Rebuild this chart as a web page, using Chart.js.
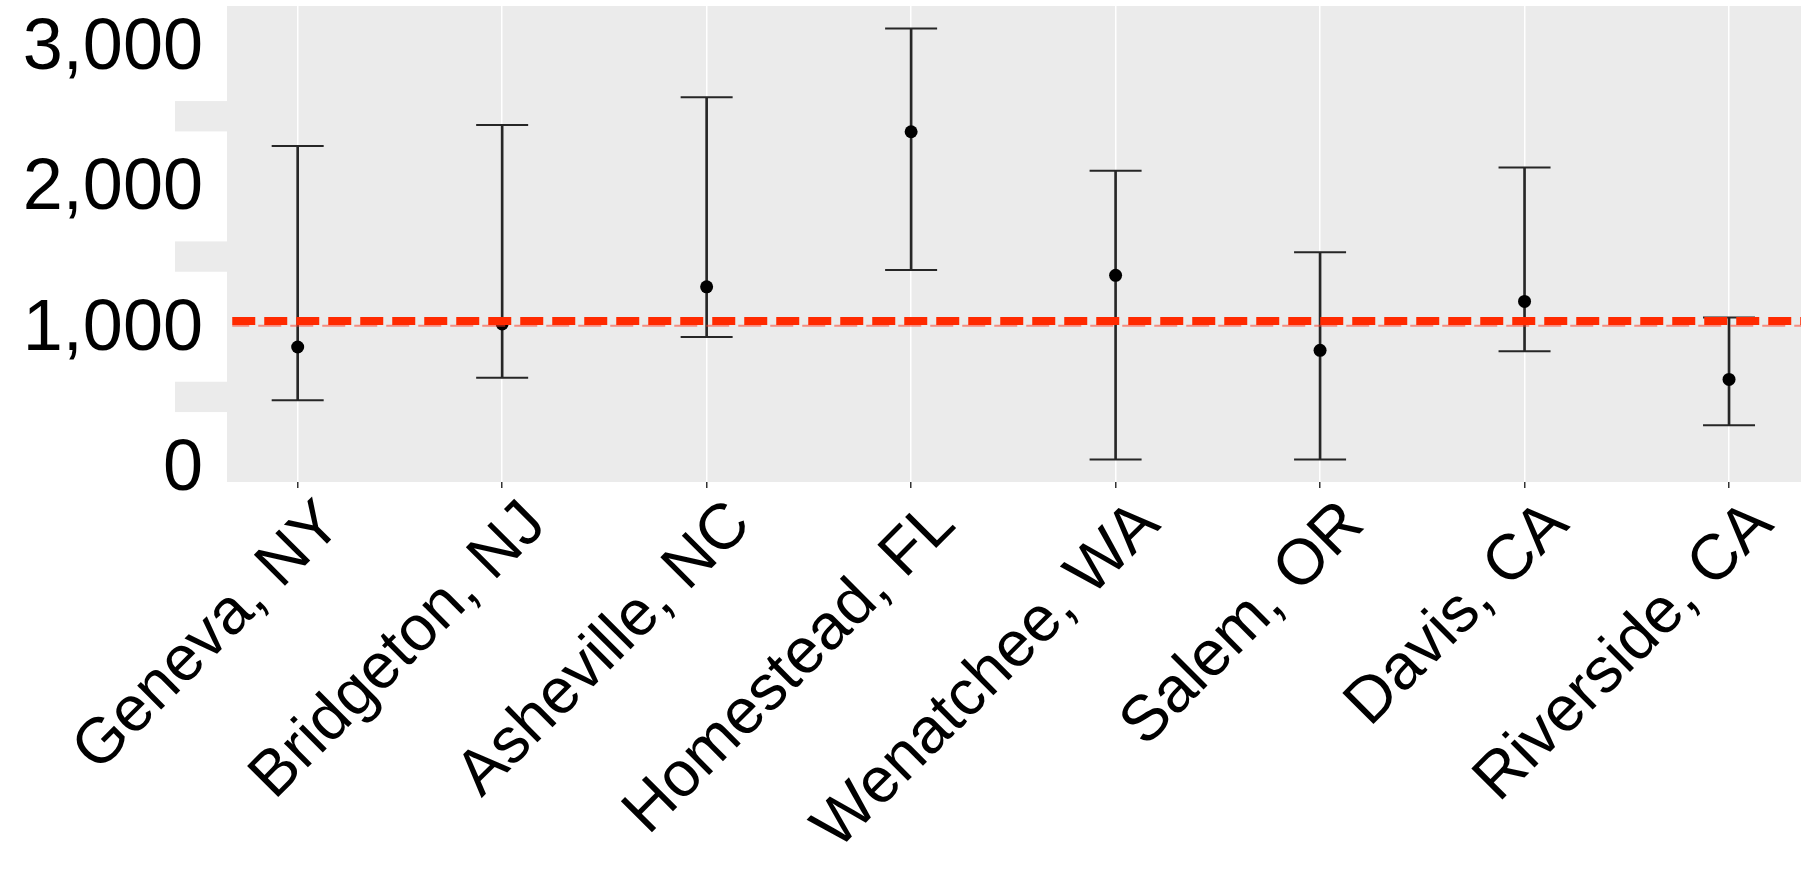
<!DOCTYPE html>
<html>
<head>
<meta charset="utf-8">
<script src="https://cdn.jsdelivr.net/npm/chart.js@4.4.1/dist/chart.umd.min.js"></script>
<style>
  html, body { margin: 0; padding: 0; background: #ffffff; }
  #wrap { width: 1801px; height: 873px; }
</style>
</head>
<body>
<div id="wrap"><canvas id="chart" width="1801" height="873"></canvas></div>
<script>
// data
const cities = ['Geneva, NY', 'Bridgeton, NJ', 'Asheville, NC', 'Homestead, FL',
                'Wenatchee, WA', 'Salem, OR', 'Davis, CA', 'Riverside, CA'];
const means = [877, 1041, 1306, 2411, 1388, 853, 1202, 646];
const lower = [497, 658, 948, 1425, 76, 76, 846, 319];
const upper = [2309, 2459, 2656, 3146, 2133, 1552, 2157, 1088];
const overallMean = 1062;
const meanLineStart = -0.32;
const yTicks = [0, 1000, 2000, 3000];
// x axis: the grey panel starts at -0.6, the plot area itself a bit further right
const panelMin = -0.6;
const xRange = [-0.331, 7.352];
const yRange = [-85, 3307];

const FONT = '"Liberation Sans", Arial, sans-serif';
const BAR_COLOR = '#262626';

// grey panel, plus the white boxes that sit behind the y labels
const panelPlugin = {
    id: 'panel',
    beforeDraw(chart) {
        const { ctx, chartArea, scales } = chart;
        const left = scales.x.getPixelForValue(panelMin);
        ctx.save();
        ctx.fillStyle = '#ebebeb';
        ctx.fillRect(left, chartArea.top, chartArea.right - left, chartArea.bottom - chartArea.top);
        ctx.fillStyle = '#ffffff';
        yTicks.forEach(v => {
            const py = scales.y.getPixelForValue(v);
            ctx.fillRect(0, py - 58, left + 52, 110);
        });
        ctx.restore();
    }
};

const pointData = cities.map((c, i) => ({ x: i, y: means[i] }));
const stemData = cities.map((c, i) => ({ x: i, y: [lower[i], upper[i]] }));
const capData = cities.flatMap((c, i) => [{ x: i, y: lower[i] }, { x: i, y: upper[i] }]);
const meanLine = [{ x: meanLineStart, y: overallMean }, { x: xRange[1], y: overallMean }];

new Chart(document.getElementById('chart'), {
    type: 'scatter',
    data: {
        datasets: [
            // overall mean, dashed red
            {
                type: 'line',
                data: meanLine,
                borderColor: '#ff2a00',
                borderWidth: 8,
                borderDash: [23, 9],
                pointRadius: 0,
                order: 0
            },
            {
                type: 'line',
                data: meanLine.map(p => ({ x: p.x, y: p.y - 33 })),
                borderColor: 'rgba(255, 60, 40, 0.55)',
                borderWidth: 2,
                borderDash: [23, 9],
                borderDashOffset: 6,
                pointRadius: 0,
                order: 1
            },
            // error bar stems
            {
                type: 'bar',
                data: stemData,
                backgroundColor: BAR_COLOR,
                borderWidth: 0,
                barThickness: 2,
                order: 4
            },
            // error bar caps
            {
                data: capData,
                pointStyle: 'line',
                pointRadius: 26,
                pointBorderColor: BAR_COLOR,
                pointBorderWidth: 2,
                order: 3
            },
            // means
            {
                data: pointData,
                pointRadius: 6.5,
                pointBackgroundColor: '#000000',
                pointBorderColor: '#000000',
                pointBorderWidth: 0,
                order: 2
            }
        ]
    },
    options: {
        responsive: false,
        animation: false,
        devicePixelRatio: 1,
        events: [],
        layout: { autoPadding: false, padding: { top: 6, left: 0, right: 0, bottom: 0 } },
        plugins: {
            legend: { display: false },
            tooltip: { enabled: false }
        },
        scales: {
            x: {
                type: 'linear',
                min: xRange[0],
                max: xRange[1],
                offset: false,
                afterBuildTicks: s => { s.ticks = cities.map((c, i) => ({ value: i })); },
                afterFit: s => { s.height = 391; s.paddingLeft = 0; s.paddingRight = 0; },
                ticks: {
                    autoSkip: false,
                    minRotation: 45,
                    maxRotation: 45,
                    padding: -1,
                    labelOffset: 34,
                    color: '#000000',
                    font: { family: FONT, size: 64 },
                    callback: v => cities[v]
                },
                grid: {
                    offset: false,
                    color: '#ffffff',
                    lineWidth: 1.5,
                    drawTicks: true,
                    tickLength: 6,
                    tickColor: '#333333',
                    tickWidth: 1.5
                },
                border: { display: false }
            },
            y: {
                type: 'linear',
                min: yRange[0],
                max: yRange[1],
                afterBuildTicks: s => { s.ticks = yTicks.map(v => ({ value: v })); },
                afterFit: s => { s.width = 230; s.paddingTop = 0; s.paddingBottom = 0; },
                ticks: {
                    padding: 27,
                    color: '#000000',
                    font: { family: FONT, size: 72 },
                    callback: v => v.toLocaleString('en-US')
                },
                grid: { display: false, drawTicks: false },
                border: { display: false }
            }
        }
    },
    plugins: [panelPlugin]
});
</script>
</body>
</html>
